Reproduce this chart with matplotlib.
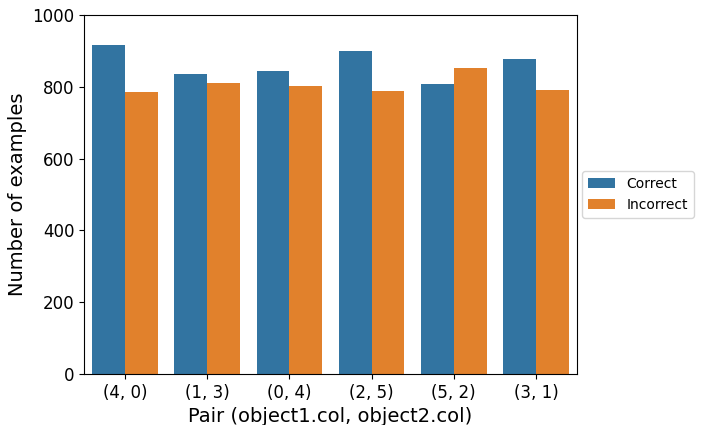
import pandas as pd
import matplotlib
matplotlib.use("Agg")
import matplotlib.pyplot as plt
import seaborn as sns

# values
pairs = ["(4, 0)", "(1, 3)", "(0, 4)", "(2, 5)", "(5, 2)", "(3, 1)"]
correct = [916, 836, 844, 900, 808, 877]
incorrect = [785, 810, 802, 788, 852, 791]

df = pd.DataFrame({
    "pair": pairs * 2,
    "count": correct + incorrect,
    "result": ["Correct"] * len(pairs) + ["Incorrect"] * len(pairs),
})

fig = plt.figure(figsize=(7.01, 4.25), dpi=100)
ax = fig.add_axes([84 / 701, 1 - 374 / 425, (577 - 84) / 701, (374 - 15) / 425])

sns.barplot(data=df, x="pair", y="count", hue="result", ax=ax,
            saturation=0.75, errorbar=None)

ax.set_ylim(0, 1000)
ax.set_xlabel("Pair (object1.col, object2.col)", fontsize=14)
ax.set_ylabel("Number of examples", fontsize=14)
ax.tick_params(axis="both", labelsize=12)
ax.legend(loc="center left", bbox_to_anchor=(1.0, 0.5), fontsize=10,
          borderaxespad=0.36)

fig.savefig("out.png", dpi=100)
